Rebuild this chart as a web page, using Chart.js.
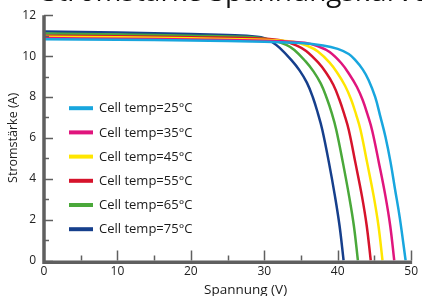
<!DOCTYPE html>
<html><head><meta charset="utf-8">
<script src="https://cdn.jsdelivr.net/npm/chart.js@4/dist/chart.umd.min.js"></script>
<style>
html,body{margin:0;padding:0;background:#fff;overflow:hidden;width:422px;height:296px}
#wrap{position:relative;width:422px;height:296px;overflow:hidden}
#title{position:absolute;left:42px;top:-24px;font:28px/28px "Open Sans",sans-serif;color:#111;white-space:nowrap}
canvas{position:absolute;left:0;top:0}
</style></head><body>
<div id="wrap"><canvas id="c" width="422" height="296"></canvas><div id="title">Stromstärke Spannungskurve</div></div>
<script>
// Series labels and colours
const labels = ["Cell temp=25°C","Cell temp=35°C","Cell temp=45°C","Cell temp=55°C","Cell temp=65°C","Cell temp=75°C"];
const colors = ["#18a6de","#e0157d","#ffe600","#d6132b","#4aa83a","#163f8c"];
// Voltage (V) and current (A) points
const v25 = [0,10,20,30,35,38,40,41.5,42.4,43.4,44.2,45.1,45.8,46.5,47.2,47.8,48.45,49.25];
const i25 = [10.82,10.8,10.76,10.7,10.64,10.52,10.35,10.1,9.8,9.35,8.83,8.0,7.05,6.05,4.8,3.5,2.1,0];
const v35 = [0,10,20,30,35.5,37.5,38.9,40.5,41.6,42.6,43.4,44.1,44.7,45.6,46.5,47.15,47.7];
const i35 = [10.88,10.85,10.81,10.75,10.65,10.45,10.2,9.65,9.1,8.5,7.85,7.1,6.35,4.8,3.15,1.7,0];
const v45 = [0,10,20,30,34,36,37.3,38.9,40.0,41.0,41.8,42.5,43.1,44.0,44.9,45.55,46.1];
const i45 = [10.95,10.92,10.87,10.8,10.7,10.48,10.22,9.68,9.15,8.55,7.9,7.15,6.4,4.8,3.15,1.7,0];
const v55 = [0,10,20,30,32.5,34.5,35.7,37.3,38.4,39.4,40.2,40.9,41.5,42.4,43.3,43.95,44.5];
const i55 = [11.0,10.97,10.92,10.85,10.75,10.5,10.25,9.7,9.2,8.6,7.9,7.15,6.4,4.8,3.15,1.7,0];
const v65 = [0,10,20,28,31,33,34.1,35.6,36.7,37.7,38.5,39.2,39.8,40.7,41.55,42.2,42.75];
const i65 = [11.1,11.06,11.0,10.93,10.8,10.55,10.3,9.75,9.25,8.65,7.95,7.2,6.4,4.8,3.15,1.7,0];
const v75 = [0,10,20,26,29,30,31,32.1,33.7,34.8,35.8,36.6,37.3,37.9,38.8,39.6,40.25,40.8];
const i75 = [11.2,11.15,11.08,11.02,10.95,10.88,10.7,10.4,9.8,9.3,8.7,8.0,7.2,6.4,4.8,3.2,1.7,0];
const xTicks = [0,10,20,30,40,50];
const yTicks = [0,2,4,6,8,10,12];

const series = [[v25,i25],[v35,i35],[v45,i45],[v55,i55],[v65,i65],[v75,i75]];
const datasets = series.map((s,k)=>({
  label: labels[k],
  data: s[0].map((x,j)=>({x:x,y:s[1][j]})),
  borderColor: colors[k],
  backgroundColor: colors[k],
  borderWidth: 2.5,
  pointRadius: 0,
  tension: 0.4,
  fill: false
}));

const AX = '#5f5f5f';
const FONT = '"Open Sans", sans-serif';

const deco = {
  id:'deco',
  afterDraw(chart){
    const ctx = chart.ctx, ca = chart.chartArea;
    const xs = chart.scales.x, ys = chart.scales.y;
    ctx.save();
    // inward ticks
    ctx.strokeStyle = AX; ctx.lineWidth = 1.5;
    for(let v=0; v<=12; v++){
      const p = Math.round(ys.getPixelForValue(v))+0.5;
      const len = v%2===0 ? 9 : 5;
      ctx.beginPath(); ctx.moveTo(ca.left, p); ctx.lineTo(ca.left+len, p); ctx.stroke();
    }
    for(let v=5; v<=50; v+=5){
      const p = Math.round(xs.getPixelForValue(v))+0.5;
      const len = v%10===0 ? 10 : 5;
      ctx.beginPath(); ctx.moveTo(p, ca.bottom); ctx.lineTo(p, ca.bottom-len); ctx.stroke();
    }
    // axis lines
    ctx.lineWidth = 3.5; ctx.lineCap='butt';
    ctx.beginPath(); ctx.moveTo(ca.left, ca.top); ctx.lineTo(ca.left, ca.bottom+1.75); ctx.lineTo(ca.right+1, ca.bottom+1.75); ctx.stroke();
    // legend
    ctx.font = '13px '+FONT; ctx.textBaseline='middle'; ctx.fillStyle='#1a1a1a';
    chart.data.datasets.forEach((d,k)=>{
      const y = ca.top + 93 + k*24.2;
      ctx.strokeStyle = d.borderColor; ctx.lineWidth = 4;
      ctx.beginPath(); ctx.moveTo(ca.left+25, y); ctx.lineTo(ca.left+49, y); ctx.stroke();
      ctx.fillText(d.label, ca.left+55, y+0.5);
    });
    // x axis title
    ctx.font = '13.5px '+FONT; ctx.textAlign='center'; ctx.textBaseline='alphabetic';
    ctx.fillText('Spannung (V)', (ca.left+ca.right)/2+18, chart.height-2);
    ctx.restore();
  }
};

new Chart(document.getElementById('c'), {
  type:'line',
  data:{datasets},
  options:{
    responsive:false, animation:false,
    layout:{padding:{top:15,right:9,left:0,bottom:0}},
    plugins:{legend:{display:false}, tooltip:{enabled:false}},
    scales:{
      x:{type:'linear', min:0, max:50,
        afterBuildTicks:s=>{s.ticks = xTicks.map(v=>({value:v}));},
        afterFit:s=>{s.height = 35.5;},
        grid:{display:false, drawTicks:false},
        border:{display:false},
        ticks:{color:'#222', font:{family:FONT,size:12}, padding:4, maxRotation:0}
      },
      y:{type:'linear', min:0, max:12,
        afterBuildTicks:s=>{s.ticks = yTicks.map(v=>({value:v}));},
        afterFit:s=>{s.width = 44;},
        grid:{display:false, drawTicks:false},
        border:{display:false},
        ticks:{color:'#222', font:{family:FONT,size:12}, padding:8},
        title:{display:true, text:'Stromstärke (A)', color:'#222', font:{family:FONT,size:12.5}, padding:{top:6,bottom:0}}
      }
    }
  },
  plugins:[deco]
});
</script>
</body></html>
